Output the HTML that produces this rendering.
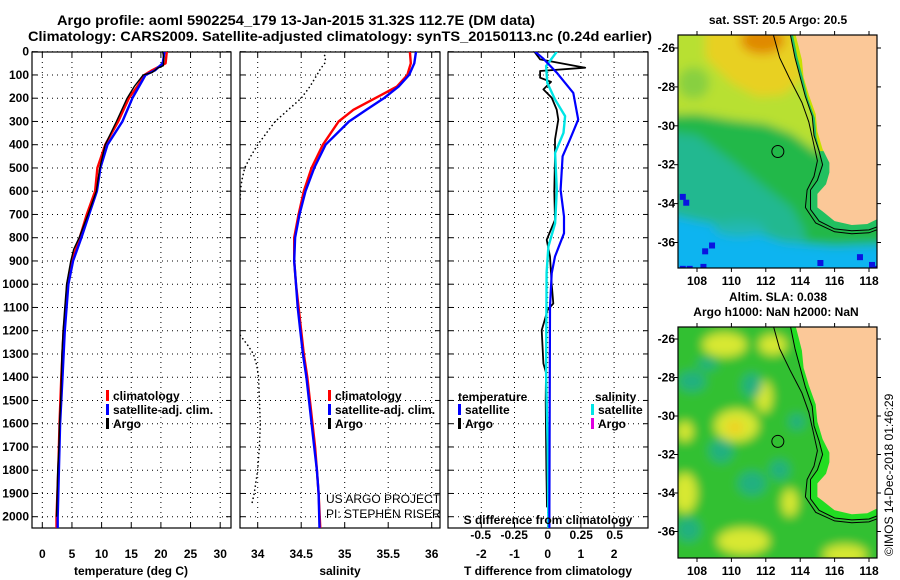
<!DOCTYPE html>
<html><head><meta charset="utf-8">
<style>
html,body{margin:0;padding:0;background:#fff;}
svg{display:block;font-family:"Liberation Sans",Arial,sans-serif;}
.b{font-weight:bold;font-size:12px;fill:#000;}
.n{font-weight:normal;font-size:12px;fill:#000;}
.t{font-weight:bold;font-size:14px;fill:#000;}
</style></head>
<body>
<svg id="fig" width="900" height="580" viewBox="0 0 900 580" xmlns="http://www.w3.org/2000/svg">
<defs>
<clipPath id="c1"><rect x="32" y="52" width="199" height="476"/></clipPath>
<clipPath id="c2"><rect x="240" y="52" width="200" height="476"/></clipPath>
<clipPath id="c3"><rect x="448" y="52" width="200" height="476"/></clipPath>
<clipPath id="cm1"><rect x="678" y="35" width="199" height="233"/></clipPath>
<clipPath id="cm2"><rect x="678" y="327" width="199" height="231"/></clipPath>
<filter id="blur" x="-10%" y="-10%" width="120%" height="120%"><feGaussianBlur stdDeviation="5"/></filter>
</defs>
<text class="t" x="57" y="25" textLength="478" lengthAdjust="spacingAndGlyphs">Argo profile: aoml 5902254_179 13-Jan-2015 31.32S 112.7E (DM data)</text>
<text class="t" x="28" y="41" textLength="624" lengthAdjust="spacingAndGlyphs">Climatology: CARS2009. Satellite-adjusted climatology: synTS_20150113.nc (0.24d earlier)</text>
<g id="p1"></g>
<g id="p2"></g>
<g id="p3"></g>
<g id="m1"></g>
<g id="m2"></g>
<text class="b" x="778" y="24" text-anchor="middle">sat. SST: 20.5 Argo: 20.5</text>
<text class="b" x="778" y="301" text-anchor="middle">Altim. SLA: 0.038</text>
<text class="b" x="776" y="316" text-anchor="middle">Argo h1000: NaN h2000: NaN</text>
<text x="893" y="556" font-size="12" transform="rotate(-90 893 556)">©IMOS 14-Dec-2018 01:46:29</text>
</svg>
<script>
// ---------- data ----------
const depthT = [0,50,80,100,150,200,300,400,500,600,700,800,900,1000,1100,1200,1400,1600,1800,2000,2050];
const tempClim = [21.0,20.8,18.5,17.2,16.0,14.6,12.8,10.6,9.3,8.9,7.5,6.3,5.0,4.2,4.0,3.6,3.2,2.9,2.7,2.4,2.4];
const tempSat  = [20.6,20.3,19.0,17.4,16.3,15.2,13.5,11.0,9.8,9.2,7.9,6.6,5.2,4.4,4.1,3.8,3.4,3.0,2.8,2.6,2.6];
const depthArgo = [0,30,60,70,90,100,150,200,300,400,500,600,700,800,850,900,1000,1100,1200,1300,1400,1500,1600,1700,1800,1900,2000];
const tempArgo = [20.3,20.5,20.4,19.5,18.5,17.0,15.5,14.3,12.5,10.6,9.7,9.1,7.7,6.2,5.3,4.8,4.1,3.8,3.5,3.3,3.2,3.1,2.9,2.8,2.6,2.5,2.4];
const depthS = [0,50,100,150,200,250,300,400,500,600,700,800,900,1000,1100,1200,1300,1400,1500,1600,1700,1800,1900,2050];
const salClim = [35.75,35.76,35.72,35.6,35.35,35.1,34.93,34.75,34.62,34.53,34.47,34.42,34.42,34.44,34.47,34.5,34.53,34.57,34.6,34.63,34.66,34.68,34.7,34.72];
const salSat  = [35.82,35.8,35.74,35.62,35.45,35.25,35.05,34.78,34.65,34.55,34.48,34.43,34.42,34.44,34.46,34.49,34.52,34.56,34.59,34.62,34.65,34.68,34.7,34.71];
const depthDot1 = [0,25,50,75,100,150,200,250,300,350,400,450,500,550,600,650];
const salDot1 = [34.75,34.78,34.77,34.72,34.68,34.6,34.5,34.35,34.2,34.1,34.0,33.92,33.85,33.82,33.8,33.8];
const depthDot2 = [1220,1260,1300,1350,1400,1500,1600,1700,1800,1900,1950];
const salDot2 = [33.8,33.88,33.95,33.99,34.01,34.02,34.03,34.02,34.0,33.96,33.93];
const depthD = [0,30,90,177,292,378,450,594,709,781,881,953,1097,1500,1960,2050];
const tdiffSat = [-0.38,-0.13,0.27,0.77,0.92,0.67,0.45,0.39,0.49,0.49,0.22,0.12,0.07,0.06,0.05,0.05];
const depthSD = [0,62,134,206,277,349,436,594,738,838,950,1385,1700,2050];
const sdiffSat = [0.068,-0.012,-0.003,0.055,0.13,0.118,0.055,0.068,0.055,0.005,-0.008,-0.012,0.0,0.005];
const depthAD = [0,33,69,83,112,130,162,198,249,292,378,450,600,723,809,881,1000,1083,1110,1198,1341,1380,1500,1800,1960];
const tdiffArgo = [-0.4,-0.23,1.13,-0.23,-0.23,0.1,-0.13,0.12,0.27,0.32,0.22,0.22,0.2,0.22,-0.03,0.07,0.12,0.17,0.0,-0.18,-0.13,-0.05,-0.06,-0.04,-0.02];
const depthTicks = [0,100,200,300,400,500,600,700,800,900,1000,1100,1200,1300,1400,1500,1600,1700,1800,1900,2000];
const tempTicks = [0,5,10,15,20,25,30];
const salTicks = [34,34.5,35,35.5,36];
const tdTicks = [-2,-1,0,1,2];
const sdTicks = [-0.5,-0.25,0,0.25,0.5];
const sdTickLabels = ["-0.5","-0.25","0","0.25","0.5"];
const lonTicks = [108,110,112,114,116,118];
const latTicks = [-26,-28,-30,-32,-34,-36];

// ---------- scales ----------
const yD = d => 51.7 + d*0.2325;
const xT = t => 42.3 + t*5.93;
const xS = s => 257.7 + (s-34)*87;
const xTD = v => 547.7 + v*33.2;
const xSD = v => 547.7 + v*134;

const NS="http://www.w3.org/2000/svg";
function el(tag, attrs, parent){const e=document.createElementNS(NS,tag);for(const k in attrs)e.setAttribute(k,attrs[k]);parent.appendChild(e);return e;}

function panel(g, x0, x1, vx, xs, xlabels, clip){
  const y0=52,y1=528;
  el('rect',{x:x0,y:y0,width:x1-x0,height:y1-y0,fill:'#fff',stroke:'none'},g);
  depthTicks.forEach(d=>{const y=yD(d);
    const l=el('line',{x1:x0,x2:x1,y1:y,y2:y,stroke:'#000','stroke-width':1,'stroke-dasharray':'1,4'},g);
    
    
    el('line',{x1:x0,x2:x0+5,y1:y,y2:y,stroke:'#000'},g);el('line',{x1:x1-5,x2:x1,y1:y,y2:y,stroke:'#000'},g);});
  vx.forEach((v,i)=>{const x=xs(v);
    const l=el('line',{x1:x,x2:x,y1:y0,y2:y1,stroke:'#000','stroke-width':1,'stroke-dasharray':'1,4'},g);
    
    
    el('line',{x1:x,x2:x,y1:y0,y2:y0+5,stroke:'#000'},g);el('line',{x1:x,x2:x,y1:y1-5,y2:y1,stroke:'#000'},g);
    if(xlabels){const t=el('text',{x:x,y:y1+30,'text-anchor':'middle',class:'b'},g);t.textContent=xlabels[i];
      
      }
  });
  el('rect',{x:x0,y:y0,width:x1-x0,height:y1-y0,fill:'none',stroke:'#000','stroke-width':1.2},g);
  return el('g',{'clip-path':'url(#'+clip+')'},g);
}
function line(g, xs, ds, vals, color, w, name, dash){
  const pts=vals.map((v,i)=>xs(v).toFixed(1)+','+yD(ds[i]).toFixed(1)).join(' ');
  const p=el('polyline',{points:pts,fill:'none',stroke:color,'stroke-width':w,'stroke-linejoin':'round'},g);
  if(dash){p.setAttribute('stroke-dasharray',dash);p.setAttribute('stroke-linecap','round');}
  
  
}
function text(g,x,y,s,cls,anchor,name){const t=el('text',{x:x,y:y,class:cls,'text-anchor':anchor},g);t.textContent=s;
  
  return t;}
function legend(g,x,y,items){items.forEach((it,i)=>{el('rect',{x:x-1,y:y+i*14-7,width:3,height:11,fill:it[1]},g);text(g,x+6,y+i*14+3,it[0],'b','start','legend-entry');});}

// Panel 1
const g1=document.getElementById('p1');
const c1=panel(g1,32,231,tempTicks,xT,tempTicks.map(String),'c1');
depthTicks.forEach(d=>text(g1,29,yD(d)+4,String(d),'b','end','y-tick-label'));
line(c1,xT,depthT,tempClim,'#ff0000',2.4,'temperature-climatology-line');
line(c1,xT,depthT,tempSat,'#0000ff',2.4,'temperature-satellite-line');
line(c1,xT,depthArgo,tempArgo,'#000',1.4,'temperature-argo-line');
text(g1,131,575,'temperature (deg C)','b','middle','x-axis-title');
legend(g1,107,397,[['climatology','#f00'],['satellite-adj. clim.','#00f'],['Argo','#000']]);

// Panel 2
const g2=document.getElementById('p2');
const c2=panel(g2,240,440,salTicks,xS,salTicks.map(String),'c2');
line(c2,xS,depthDot1,salDot1,'#000',1.6,'salinity-dotted-line','0.1,4');
line(c2,xS,depthDot2,salDot2,'#000',1.6,'salinity-dotted-line-deep','0.1,4');
line(c2,xS,depthS,salClim,'#ff0000',2.4,'salinity-climatology-line');
line(c2,xS,depthS,salSat,'#0000ff',2.4,'salinity-satellite-line');
text(g2,340,575,'salinity','b','middle','x-axis-title');
legend(g2,329,397,[['climatology','#f00'],['satellite-adj. clim.','#00f'],['Argo','#000']]);
text(g2,326,503,'US ARGO PROJECT','n','start','project-credit');
text(g2,326,518,'PI: STEPHEN RISER','n','start','pi-credit');

// Panel 3
const g3=document.getElementById('p3');
const c3=panel(g3,448,648,tdTicks,xTD,tdTicks.map(String),'c3');
line(c3,xTD,depthAD,tdiffArgo,'#000',1.8,'argo-temperature-difference-line');
line(c3,xSD,depthSD,sdiffSat,'#00e5e5',2.4,'satellite-salinity-difference-line');
line(c3,xTD,depthD,tdiffSat,'#0000ff',2.2,'satellite-temperature-difference-line');
text(g3,548,575,'T difference from climatology','b','middle','x-axis-title');
text(g3,548,524,'S difference from climatology','b','middle','s-axis-title');
sdTicks.forEach((v,i)=>text(g3,xSD(v),539,sdTickLabels[i],'b','middle','s-tick-label'));
text(g3,458,401,'temperature','b','start','legend-heading');
legend(g3,459,411,[['satellite','#00f'],['Argo','#000']]);
text(g3,595,401,'salinity','b','start','legend-heading');
legend(g3,592,411,[['satellite','#00e5e5'],['Argo','#e000e0']]);

// ---------- maps ----------
const mx = lon => 697 + (lon-108)*17.2;
const land=[[113.7,-25.2],[113.9,-25.9],[114.1,-26.6],[114.2,-27.5],[114.5,-28.4],[114.9,-29.4],[115.0,-30.3],[115.3,-31.2],[115.7,-31.9],[115.7,-32.4],[115.5,-33.0],[115.0,-33.5],[115.0,-34.2],[115.3,-34.4],[116,-34.9],[117,-35.1],[117.9,-35.05],[118.6,-34.75],[118.6,-25.2]];
const shelf=[[113.4,-25.2],[113.7,-26.5],[114.0,-27.5],[114.3,-28.5],[114.7,-29.5],[114.8,-30.5],[115.1,-31.3],[115.3,-32],[115.0,-32.8],[114.6,-33.3],[114.6,-34.3],[115.1,-34.9],[116,-35.3],[117,-35.4],[118,-35.35],[118.6,-35.15],[118.6,-25.2]];
const iso1=[[112.4,-25.2],[112.8,-26.5],[113.4,-27.6],[114.1,-28.8],[114.5,-29.8],[114.8,-31.0],[115.0,-31.8],[114.8,-32.6],[114.4,-33.3],[114.3,-34.2],[114.9,-35.0],[116,-35.45],[117,-35.55],[118,-35.5],[118.6,-35.3]];

function drawMap(gid, clip, top, bot, yLat0, latScale, kind, labY){
  const g=document.getElementById(gid);
  const my = lat => yLat0 + (-26-lat)*latScale;
  const pts = arr => arr.map(p=>mx(p[0]).toFixed(1)+','+my(p[1]).toFixed(1)).join(' ');
  const c=el('g',{'clip-path':'url(#'+clip+')'},g);
  const sea=el('g',{filter:'url(#blur)'},c);
  if(kind==='sst'){
    el('rect',{x:660,y:top-20,width:240,height:bot-top+40,fill:'#22b848'},sea);
    el('polygon',{points:pts([[105,-24],[115,-24],[115,-29],[115.2,-31.5],[113.5,-30.4],[112,-29.9],[110,-29.7],[108,-29.4],[105,-29.5]]),fill:'#b8e030'},sea);
    el('polygon',{points:pts([[108.5,-24],[114,-24],[114.2,-27.5],[113,-28.4],[111.5,-28.5],[110,-27.8],[108.5,-26.5]]),fill:'#e8d020'},sea);
    el('ellipse',{cx:mx(111.8),cy:my(-25.6),rx:22,ry:14,fill:'#e08a00'},sea);
    el('ellipse',{cx:mx(107.8),cy:my(-27.8),rx:16,ry:16,fill:'#88d040'},sea);
    el('polygon',{points:pts([[105,-30.2],[108,-30.5],[110,-31.8],[112,-33.2],[113.5,-34.2],[114.3,-35.5],[114,-38],[105,-38]]),fill:'#22b890'},sea);
    el('polygon',{points:pts([[105,-34.3],[108,-34.9],[111,-35.4],[113,-36.0],[116,-36.2],[119,-36.1],[119,-38],[105,-38]]),fill:'#10b4f0'},sea);
    el('ellipse',{cx:mx(110.5),cy:my(-35.3),rx:26,ry:8,fill:'#20b8b0'},sea);
    el('polygon',{points:pts(shelf),fill:'#22c060'},c);
    el('polygon',{points:pts([[113.55,-25.2],[113.85,-26.5],[114.15,-27.5],[114.45,-28.6],[114.85,-29.6],[114.95,-30.6],[115.15,-31.3],[118.6,-31.3],[118.6,-25.2]]),fill:'#c8e000'},c);
    [[107.0,-33.5],[107.2,-33.8],[108.3,-36.3],[108.7,-36.0],[107,-37.2],[107.4,-37.2],[108.2,-37.1],[112,-37.3],[112.4,-37.3],[117.3,-36.6],[118,-37.0],[118.2,-37.2],[115,-36.9]].forEach(p=>el('rect',{x:mx(p[0]),y:my(p[1]),width:6,height:6,fill:'#0a14e0'},c));
    el('rect',{x:mx(113.9),y:my(-25.2),width:7,height:14,fill:'#ee1010'},c);
  } else {
    el('rect',{x:660,y:top-20,width:240,height:bot-top+40,fill:'#33c033'},sea);
    const ys=[[110.3,-30.5,22,16],[109.6,-26.3,22,12],[110.7,-36.5,26,13],[116.6,-37.2,22,10],[107.3,-34,12,20],[112.4,-26.3,14,10],[113.4,-34.5,8,14],[111.9,-29.0,8,16],[107.3,-30.8,8,10]];
    ys.forEach(e=>el('ellipse',{cx:mx(e[0]),cy:my(e[1]),rx:e[2],ry:e[3],fill:'#d8e830'},sea));
    el('ellipse',{cx:mx(110.2),cy:my(-30.6),rx:9,ry:7,fill:'#f0d020'},sea);
    const ts=[[107.7,-28.2,14,10],[109.4,-31.8,12,12],[111.2,-33.5,14,12],[112.8,-32.8,10,10],[107.5,-35.9,12,12],[111.2,-28.4,10,12],[113.8,-30.3,8,8],[108.6,-27.3,10,6]];
    ts.forEach(e=>el('ellipse',{cx:mx(e[0]),cy:my(e[1]),rx:e[2],ry:e[3],fill:'#22b080'},sea));
    el('polygon',{points:pts(shelf),fill:'#22dd22'},c);
  }
  el('polygon',{points:pts(land),fill:'#fbc898'},c);
  el('polyline',{points:pts(shelf.slice(0,-1)),fill:'none',stroke:'#000','stroke-width':1},c);
  el('polyline',{points:pts(iso1),fill:'none',stroke:'#000','stroke-width':1},c);
  const circ=el('circle',{cx:mx(112.7),cy:my(-31.32),r:6,fill:'none',stroke:'#000','stroke-width':1},c);
  
  
  el('rect',{x:678,y:top,width:199,height:bot-top,fill:'none',stroke:'#000','stroke-width':1.2},g);
  lonTicks.forEach(l=>{const x=mx(l);el('line',{x1:x,x2:x,y1:bot,y2:bot+4,stroke:'#000'},g);el('line',{x1:x,x2:x,y1:top,y2:top-4,stroke:'#000'},g);
    text(g,x,labY,String(l),'b','middle','map-lon-label');});
  latTicks.forEach(l=>{const y=my(l);el('line',{x1:674,x2:678,y1:y,y2:y,stroke:'#000'},g);el('line',{x1:877,x2:881,y1:y,y2:y,stroke:'#000'},g);
    text(g,675,y+4,String(l),'b','end','map-lat-label');});
}
drawMap('m1','cm1',35,268,48,19.45,'sst',285);
drawMap('m2','cm2',327,558,339,19.25,'sla',575);
</script>
</body></html>
